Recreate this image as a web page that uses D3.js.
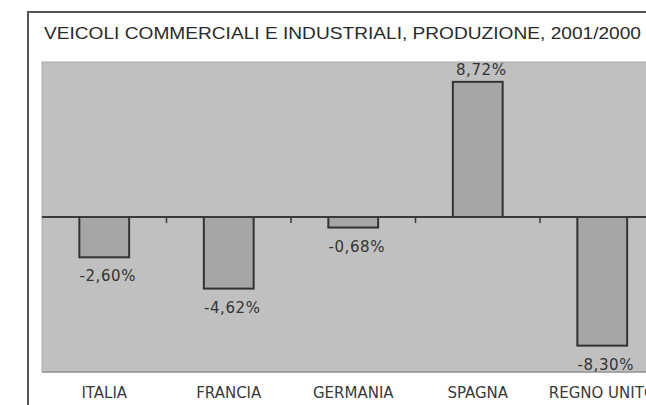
<!DOCTYPE html>
<html>
<head>
<meta charset="utf-8">
<script src="https://cdn.jsdelivr.net/npm/d3@7"></script>
<style>
  html, body { margin: 0; padding: 0; background: #ffffff; }
  svg { display: block; }
</style>
</head>
<body>
<script>
const title = "VEICOLI COMMERCIALI E INDUSTRIALI, PRODUZIONE, 2001/2000";
const categories = ["ITALIA", "FRANCIA", "GERMANIA", "SPAGNA", "REGNO UNITO"];
const values = [-2.60, -4.62, -0.68, 8.72, -8.30];
const valueLabels = ["-2,60%", "-4,62%", "-0,68%", "8,72%", "-8,30%"];
const yDomain = [-10, 10];

const W = 646, H = 405;
const plot = { left: 42, top: 62, right: 664.5, bottom: 372 };

const svg = d3.select("body").append("svg")
  .attr("width", W).attr("height", H);

// outer frame
svg.append("rect")
  .attr("x", 28).attr("y", 12)
  .attr("width", 680).attr("height", 420)
  .attr("fill", "#ffffff")
  .attr("stroke", "#555555").attr("stroke-width", 2);

// title
svg.append("text")
  .attr("x", 44).attr("y", 39)
  .attr("font-family", "Liberation Sans, Arial, sans-serif")
  .attr("font-size", 17)
  .attr("fill", "#2a2a2a")
  .attr("textLength", 597).attr("lengthAdjust", "spacingAndGlyphs")
  .text(title);

// scales
const x = d3.scaleBand()
  .domain(categories)
  .range([plot.left, plot.right])
  .paddingInner(0.6)
  .paddingOuter(0.3);

const y = d3.scaleLinear()
  .domain(yDomain)
  .range([plot.bottom, plot.top]);

// plot background
svg.append("rect")
  .attr("x", plot.left).attr("y", plot.top)
  .attr("width", plot.right - plot.left)
  .attr("height", plot.bottom - plot.top)
  .attr("fill", "#c0c0c0")
  .attr("stroke", "#a9a9a9").attr("stroke-width", 1);
svg.append("line")
  .attr("x1", plot.left).attr("x2", plot.right)
  .attr("y1", plot.bottom).attr("y2", plot.bottom)
  .attr("stroke", "#9a9a9a").attr("stroke-width", 1.5);

// bars
const data = categories.map((c, i) => ({ c, v: values[i], label: valueLabels[i] }));
svg.selectAll("rect.bar").data(data).enter().append("rect")
  .attr("class", "bar")
  .attr("x", d => x(d.c))
  .attr("width", x.bandwidth())
  .attr("y", d => y(Math.max(0, d.v)))
  .attr("height", d => Math.abs(y(d.v) - y(0)))
  .attr("fill", "#a6a6a6")
  .attr("stroke", "#333333").attr("stroke-width", 2);

// zero axis with ticks at band boundaries
const zeroAxis = d3.axisBottom(x).tickSize(0).tickFormat("");
const gz = svg.append("g").attr("transform", `translate(0,${y(0)})`).call(zeroAxis);
gz.select(".domain").attr("stroke", "#3a3a3a").attr("stroke-width", 2)
  .attr("d", `M${plot.left},0H${plot.right}`);
gz.selectAll(".tick").remove();
const boundaries = categories.slice(1).map(c => x(c) - x.step() * x.paddingInner() / 2);
svg.selectAll("line.tk").data(boundaries).enter().append("line")
  .attr("class", "tk")
  .attr("x1", d => d).attr("x2", d => d)
  .attr("y1", y(0)).attr("y2", y(0) + 6)
  .attr("stroke", "#3a3a3a").attr("stroke-width", 1.5);

// value labels
svg.selectAll("text.val").data(data).enter().append("text")
  .attr("class", "val")
  .attr("x", d => x(d.c) + x.bandwidth() / 2 + 3.5)
  .attr("y", d => d.v >= 0 ? y(d.v) - 7 : y(d.v) + 24)
  .attr("text-anchor", "middle")
  .attr("font-family", "DejaVu Sans, Verdana, sans-serif")
  .attr("font-size", 15)
  .attr("letter-spacing", 0.6)
  .attr("fill", "#333333")
  .text(d => d.label);

// category labels
const xAxis = d3.axisBottom(x).tickSize(0).tickPadding(0);
const gx = svg.append("g").attr("transform", `translate(0,${plot.bottom})`).call(xAxis);
gx.select(".domain").remove();
gx.selectAll(".tick text")
  .attr("y", 26)
  .attr("dy", 0)
  .attr("font-family", "DejaVu Sans, Verdana, sans-serif")
  .attr("font-size", 15)
  .attr("fill", "#3a3a3a");
</script>
</body>
</html>
